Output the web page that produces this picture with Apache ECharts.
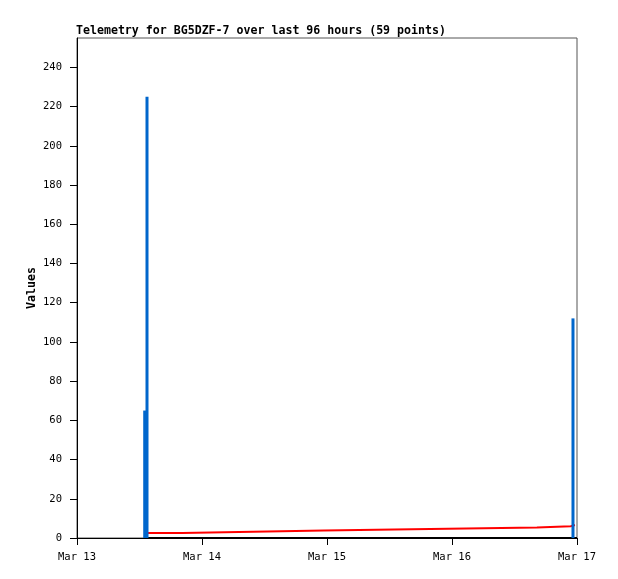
<!DOCTYPE html>
<html>
<head>
<meta charset="utf-8">
<script src="https://cdn.jsdelivr.net/npm/echarts@6/dist/echarts.min.js"></script>
<style>
html,body{margin:0;padding:0;background:#fff;}
#chart{width:618px;height:579px;}
</style>
</head>
<body>
<div id="chart"></div>
<script>
// Hours since Mar 13 00:00
const xTickHours = [0, 24, 48, 72, 96];
const xTickLabels = ['Mar 13', 'Mar 14', 'Mar 15', 'Mar 16', 'Mar 17'];
const yTickValues = [0, 20, 40, 60, 80, 100, 120, 140, 160, 180, 200, 220, 240];

// Blue impulses
const spikeHours = [13.0, 13.44, 95.23];
const spikeValues = [65, 225, 112];

// Red step series
const stepHours = [13.6, 20.2, 33.8, 47.4, 60.9, 74.7, 88.3, 94.8, 95.6];
const stepValues = [2.55, 3.2, 3.8, 4.3, 4.85, 5.4, 6.0, 6.6, 6.6];

// Black zero line
const zeroHours = [13.6, 96];
const zeroValues = [0, 0];

const zip = (a, b) => a.map((v, i) => [v, b[i]]);
const FONT = 'DejaVu Sans Mono';

const chart = echarts.init(document.getElementById('chart'), null, {renderer: 'canvas'});
chart.setOption({
  animation: false,
  backgroundColor: '#ffffff',
  title: {
    text: 'Telemetry for BG5DZF-7 over last 96 hours (59 points)',
    left: 76, top: 25, padding: 0,
    textStyle: {fontFamily: FONT, fontSize: 11.6, fontWeight: 'bold', color: '#000'}
  },
  graphic: [{
    type: 'text', x: 32, y: 288, rotation: Math.PI / 2,
    style: {text: 'Values', fontFamily: FONT, fontSize: 11.6, fontWeight: 'bold', fill: '#000', align: 'center', verticalAlign: 'middle'}
  }],
  grid: {left: 77, right: 41, top: 38, bottom: 41, show: true, borderColor: '#555', borderWidth: 1, backgroundColor: 'transparent'},
  xAxis: {
    type: 'value', min: 0, max: 96, interval: 24,
    axisLine: {lineStyle: {color: '#000', width: 1}},
    axisTick: {show: true, length: 7, lineStyle: {color: '#000'}, customValues: xTickHours},
    axisLabel: {
      customValues: xTickHours,
      margin: 14, fontFamily: FONT, fontSize: 10.5, color: '#000',
      formatter: v => xTickLabels[xTickHours.indexOf(v)] || ''
    },
    splitLine: {show: false}
  },
  yAxis: {
    type: 'value', min: 0, max: 255,
    axisLine: {show: true, lineStyle: {color: '#000', width: 1}},
    axisTick: {show: true, length: 7, lineStyle: {color: '#000'}, customValues: yTickValues},
    axisLabel: {customValues: yTickValues, margin: 15, fontFamily: FONT, fontSize: 10.5, color: '#000'},
    splitLine: {show: false}
  },
  series: [
    {
      type: 'line', data: zip(zeroHours, zeroValues), symbol: 'none',
      lineStyle: {color: '#000', width: 2}, z: 3, clip: false
    },
    {
      type: 'line', step: 'end', data: zip(stepHours, stepValues), symbol: 'none',
      lineStyle: {color: '#ff0000', width: 2}, z: 4
    },
    {
      type: 'bar', data: zip(spikeHours, spikeValues), barWidth: 3,
      itemStyle: {color: '#0066cc'}, z: 5
    }
  ]
});
</script>
</body>
</html>
